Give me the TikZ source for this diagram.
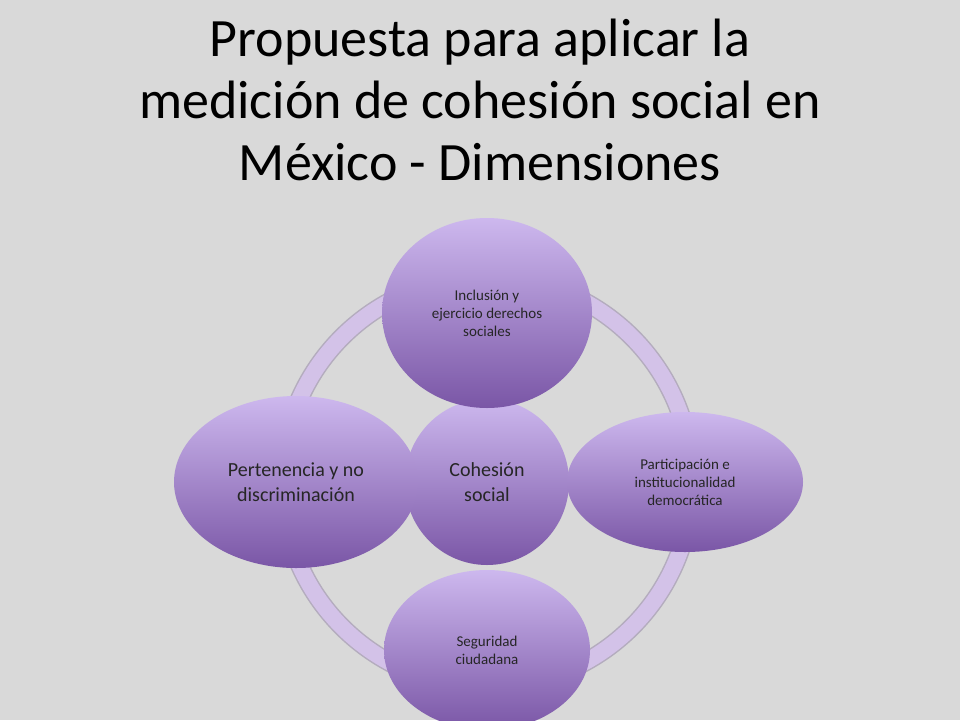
\documentclass[tikz,border=0pt]{standalone}
\usepackage{fontspec}
\setmainfont{Carlito}
\usetikzlibrary{shapes.geometric}
\definecolor{bggray}{HTML}{D9D9D9}
\definecolor{lilatop}{HTML}{CDB8EE}
\definecolor{lilabot}{HTML}{7A56A6}
\definecolor{ringc}{HTML}{D3C2E8}
\begin{document}
\begin{tikzpicture}[x=1pt,y=-1pt,
   dim/.style={ellipse, inner sep=0pt, top color=lilatop, bottom color=lilabot,
     draw=none, align=center, text=black!85},
   small/.style={font=\fontsize{15}{18}\selectfont},
   big/.style={font=\fontsize{20}{25}\selectfont}, ]
    \fill[bggray] (0,0) rectangle (960,720);
    \useasboundingbox (0,0) rectangle (960,720);
    \clip (0,0) rectangle (960,720);

    \node[font=\fontsize{54}{62}\selectfont, align=center] (title) at (480,100)
      {Propuesta para aplicar la\\medición de cohesión social en\\México - Dimensiones};

    % ring
    \draw[ringc!70!black!70, line width=19pt] (487,482) circle (205);
    \draw[ringc, line width=16pt] (487,482) circle (205);

    \node[dim, big, minimum width=164, minimum height=166] (coh) at (487,482) {Cohesión\\social};
    \node[dim, small, minimum width=210, minimum height=190] (incl) at (487,313)
      {Inclusión y\\ejercicio derechos\\sociales};
    \node[dim, small, minimum width=236, minimum height=140] (part) at (685,482)
      {Participación e\\institucionalidad\\democrática};
    \node[dim, big, minimum width=244, minimum height=172] (pert) at (296,482)
      {Pertenencia y no\\discriminación};
    \node[dim, small, minimum width=206, minimum height=160] (seg) at (487,650)
      {Seguridad\\ciudadana};
\end{tikzpicture}
\end{document}
